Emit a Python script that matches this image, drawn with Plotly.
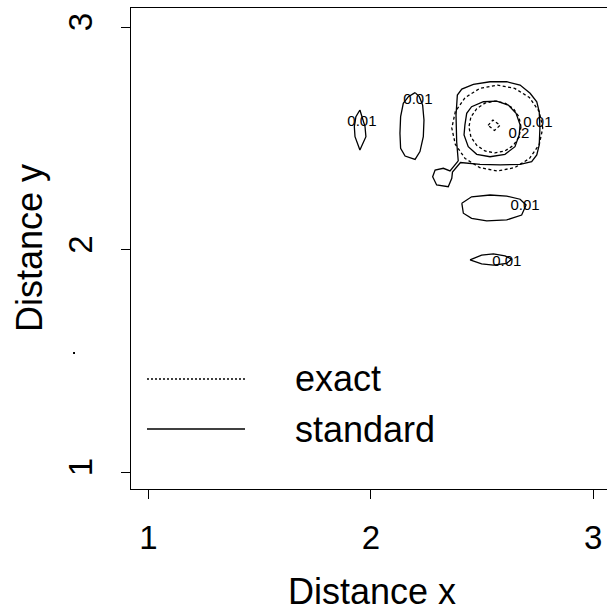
import plotly.graph_objects as go

# ---- contour lines (level 0.01 and 0.2) ----
# "standard" estimate: main ring with neck + side blob, inner 0.2 ring, spurious 0.01 islands
std_ring_x = [2.393, 2.386, 2.383, 2.389, 2.409, 2.461, 2.536, 2.611, 2.671, 2.716, 2.746, 2.757,
              2.760, 2.757, 2.746, 2.723, 2.671, 2.581, 2.491, 2.416, 2.403, 2.367, 2.364, 2.348,
              2.296, 2.278, 2.289, 2.326, 2.356, 2.393]
std_ring_y = [2.398, 2.484, 2.604, 2.694, 2.721, 2.742, 2.754, 2.754, 2.739, 2.702, 2.664, 2.619,
              2.545, 2.470, 2.425, 2.395, 2.383, 2.380, 2.383, 2.392, 2.391, 2.348, 2.320, 2.282,
              2.290, 2.327, 2.357, 2.365, 2.353, 2.398]

std_inner_x = [2.423, 2.431, 2.453, 2.506, 2.566, 2.618, 2.653, 2.671, 2.667, 2.648, 2.603,
               2.536, 2.476, 2.438, 2.419, 2.423]
std_inner_y = [2.560, 2.612, 2.642, 2.664, 2.667, 2.649, 2.612, 2.560, 2.515, 2.462, 2.428,
               2.417, 2.428, 2.462, 2.515, 2.560]

blob_a_x = [1.951, 1.974, 1.978, 1.951, 1.929, 1.926, 1.933, 1.951]
blob_a_y = [2.627, 2.552, 2.507, 2.447, 2.507, 2.552, 2.597, 2.627]

blob_b_x = [2.199, 2.169, 2.146, 2.134, 2.131, 2.134, 2.154, 2.199, 2.221, 2.236, 2.239, 2.233, 2.218, 2.199]
blob_b_y = [2.705, 2.687, 2.657, 2.597, 2.522, 2.455, 2.420, 2.405, 2.440, 2.507, 2.582, 2.649, 2.687, 2.705]

blob_c_x = [2.409, 2.453, 2.536, 2.611, 2.671, 2.698, 2.678, 2.611, 2.521, 2.453, 2.416, 2.409]
blob_c_y = [2.208, 2.237, 2.245, 2.240, 2.226, 2.200, 2.155, 2.133, 2.129, 2.140, 2.163, 2.208]

blob_d_x = [2.446, 2.498, 2.551, 2.603, 2.633, 2.611, 2.551, 2.498, 2.446]
blob_d_y = [1.953, 1.975, 1.980, 1.971, 1.957, 1.938, 1.930, 1.935, 1.953]

# "exact" field: outer 0.01 ring, inner 0.2 ring, small peak contour
ex_outer_x = [2.773, 2.757, 2.713, 2.647, 2.569, 2.490, 2.424, 2.380, 2.364, 2.380, 2.424,
              2.490, 2.569, 2.647, 2.713, 2.757, 2.773]
ex_outer_y = [2.546, 2.620, 2.683, 2.724, 2.739, 2.724, 2.683, 2.620, 2.546, 2.472, 2.409,
              2.368, 2.353, 2.368, 2.409, 2.472, 2.546]

ex_inner_x = [2.675, 2.666, 2.641, 2.603, 2.558, 2.513, 2.476, 2.450, 2.441, 2.450, 2.476,
              2.513, 2.558, 2.603, 2.641, 2.666, 2.675]
ex_inner_y = [2.551, 2.596, 2.633, 2.658, 2.667, 2.658, 2.633, 2.596, 2.551, 2.506, 2.468,
              2.443, 2.434, 2.443, 2.468, 2.506, 2.551]

ex_peak_x = [2.527, 2.549, 2.581, 2.556, 2.527]
ex_peak_y = [2.558, 2.582, 2.558, 2.535, 2.558]

# contour level labels
label_text = ["0.01", "0.01", "0.01", "0.2", "0.01", "0.01"]
label_x = [1.960, 2.212, 2.751, 2.666, 2.693, 2.611]
label_y = [2.570, 2.672, 2.569, 2.518, 2.196, 1.944]

tick_vals = [1, 2, 3]
tick_text = ["1", "2", "3"]
legend_names = ["exact", "standard"]


def join(parts):
    xs, ys = [], []
    for px, py in parts:
        xs += px + [None]
        ys += py + [None]
    return xs, ys


sx, sy = join([(std_ring_x, std_ring_y), (std_inner_x, std_inner_y),
               (blob_a_x, blob_a_y), (blob_b_x, blob_b_y),
               (blob_c_x, blob_c_y), (blob_d_x, blob_d_y)])
ex, ey = join([(ex_outer_x, ex_outer_y), (ex_inner_x, ex_inner_y), (ex_peak_x, ex_peak_y)])

FONT = "Liberation Sans, Arial, Helvetica, sans-serif"
LW = 1.3

fig = go.Figure()
fig.add_trace(go.Scatter(x=ex, y=ey, mode="lines", name=legend_names[0], showlegend=False,
                         line=dict(color="black", width=LW, dash="3px,2.5px")))
fig.add_trace(go.Scatter(x=sx, y=sy, mode="lines", name=legend_names[1], showlegend=False,
                         line=dict(color="black", width=LW)))
fig.add_trace(go.Scatter(x=label_x, y=label_y, mode="text", text=label_text, showlegend=False,
                         textposition="middle center",
                         textfont=dict(family=FONT, size=15, color="black")))

# hand-drawn legend (long line samples)
leg_x0, leg_x1, leg_tx = 0.0336, 0.2395, 0.3403
leg_rows = [(0.2287, "2px,2px"), (0.1247, "solid")]
shapes = []
annotations = []
for (yy, dash), name in zip(leg_rows, legend_names):
    shapes.append(dict(type="line", xref="paper", yref="paper", x0=leg_x0, x1=leg_x1, y0=yy, y1=yy,
                       line=dict(color="black", width=LW, dash=dash)))
    annotations.append(dict(xref="paper", yref="paper", x=leg_tx, y=yy, text=name, showarrow=False,
                            xanchor="left", yanchor="middle",
                            font=dict(family=FONT, size=36, color="black")))

# small speck left of the y axis
shapes.append(dict(type="rect", xref="paper", yref="paper", x0=-0.1218, x1=-0.1176, y0=0.2807, y1=0.2848,
                   fillcolor="black", line=dict(width=0)))

# axis titles
annotations.append(dict(xref="paper", yref="paper", x=0.5053, y=-0.2121, text="Distance x",
                        showarrow=False, xanchor="center", yanchor="middle",
                        font=dict(family=FONT, size=36, color="black")))
annotations.append(dict(xref="paper", yref="paper", x=-0.2132, y=0.5, text="Distance y", textangle=-90,
                        showarrow=False, xanchor="center", yanchor="middle",
                        font=dict(family=FONT, size=36, color="black")))

fig.update_layout(
    width=607, height=611,
    margin=dict(l=131, r=0, t=8, b=122),
    paper_bgcolor="white", plot_bgcolor="white",
    shapes=shapes, annotations=annotations,
    showlegend=False,
)
fig.update_xaxes(range=[0.9222, 3.0616], tickvals=tick_vals, ticktext=tick_text,
                 showline=True, mirror=True, linecolor="black", linewidth=LW,
                 ticks="outside", ticklen=9, tickwidth=LW, tickcolor="black",
                 showgrid=False, zeroline=False, ticklabelstandoff=10,
                 tickfont=dict(family=FONT, size=33, color="black"))
fig.update_yaxes(range=[0.9236, 3.0854], tickvals=tick_vals, ticktext=tick_text,
                 showline=True, mirror=False, linecolor="black", linewidth=LW,
                 ticks="outside", ticklen=9, tickwidth=LW, tickcolor="black",
                 showgrid=False, zeroline=False, tickangle=-90, ticklabelstandoff=16,
                 tickfont=dict(family=FONT, size=33, color="black"))

fig.write_html("out.html")
